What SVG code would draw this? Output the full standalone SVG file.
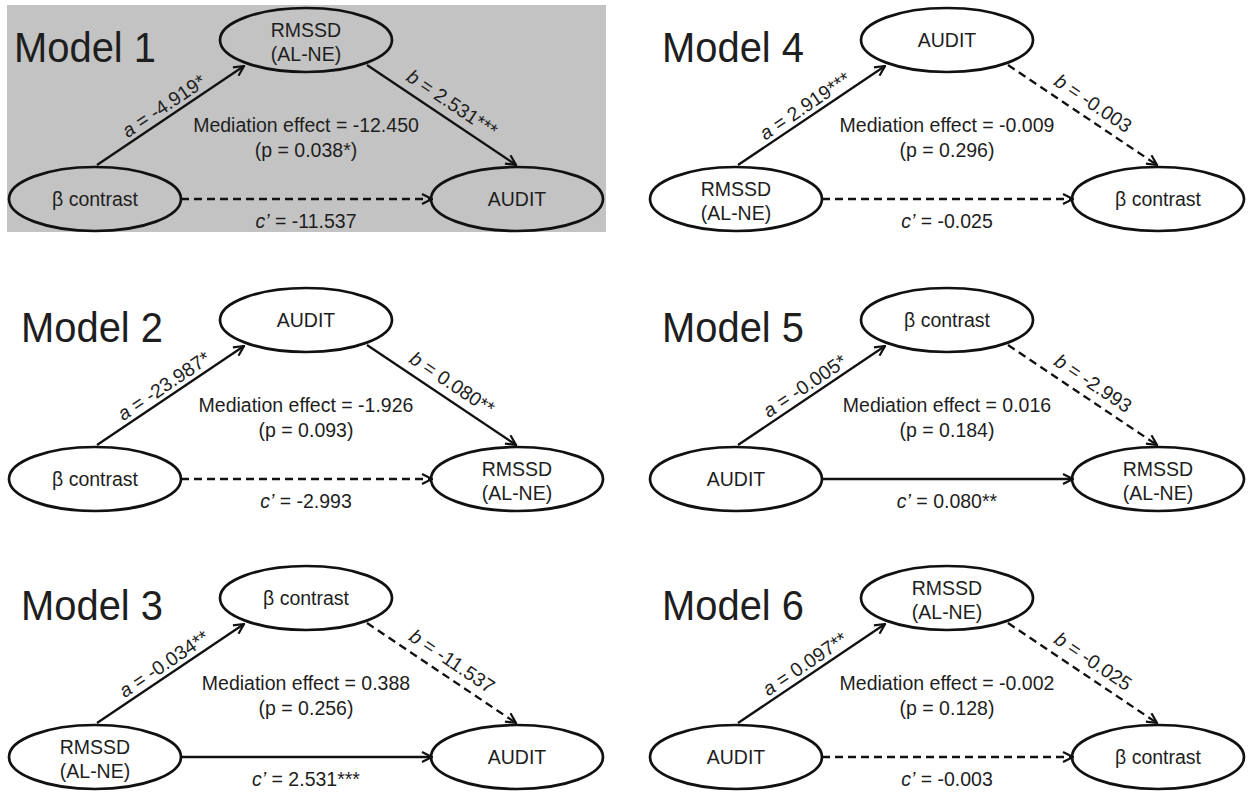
<svg xmlns="http://www.w3.org/2000/svg" width="1251" height="792" viewBox="0 0 1251 792">
<defs>
<marker id="arr" viewBox="0 0 12 12" refX="11" refY="6" markerWidth="12" markerHeight="12" orient="auto" markerUnits="userSpaceOnUse">
<path d="M1,1 L11,6 L1,11" fill="none" stroke="#111" stroke-width="2.2" stroke-dasharray="none"/>
</marker>
<style>
text{font-family:"Liberation Sans",Arial,sans-serif;fill:#1e1e1e;}
.node{fill:none;stroke:#111;stroke-width:2.7;}
.t{font-size:19.5px;text-anchor:middle;}
.title{font-size:42px;}
.e{fill:none;stroke:#111;stroke-width:2.3;marker-end:url(#arr);}
.d{stroke-dasharray:8 5;}
.i{font-style:italic;}
</style>
</defs>
<rect width="1251" height="792" fill="#fff"/>
<rect x="7" y="5" width="599" height="227" fill="#c3c3c3"/>

<!-- Model 1 -->
<g id="model1">
<text class="title" x="14" y="62" textLength="142" lengthAdjust="spacingAndGlyphs">Model 1</text>
<g id="m1-connectors">
<path class="e" d="M97,165 L244,66"/>
<path class="e" d="M367,65 L516,165"/>
<path class="e d" d="M181,199 L432,199"/>
<text class="t" transform="translate(167.6,111.4) rotate(-33.96)"><tspan class="i">a</tspan> = -4.919*</text>
<text class="t" transform="translate(448.4,108.8) rotate(33.87)"><tspan class="i">b</tspan> = 2.531***</text>
<text class="t" x="306" y="228"><tspan class="i">c’</tspan> = -11.537</text>
</g>
<g id="m1-left"><ellipse class="node" cx="95" cy="199" rx="86" ry="32"/><text class="t" x="95" y="206">β contrast</text></g>
<g id="m1-top"><ellipse class="node" cx="306" cy="40" rx="86" ry="32"/><text class="t" x="306" y="37">RMSSD</text><text class="t" x="306" y="61">(AL-NE)</text></g>
<g id="m1-right"><ellipse class="node" cx="517" cy="199" rx="86" ry="32"/><text class="t" x="517" y="206">AUDIT</text></g>
<g id="m1-med"><text class="t" x="306" y="132">Mediation effect = -12.450</text><text class="t" x="306" y="157">(p = 0.038*)</text></g>
</g>

<!-- Model 2 -->
<g id="model2" transform="translate(0,280)">
<text class="title" x="21" y="62" textLength="142" lengthAdjust="spacingAndGlyphs">Model 2</text>
<g id="m2-connectors">
<path class="e" d="M97,165 L244,66"/>
<path class="e" d="M367,65 L516,165"/>
<path class="e d" d="M181,199 L432,199"/>
<text class="t" transform="translate(167.6,111.4) rotate(-33.96)"><tspan class="i">a</tspan> = -23.987*</text>
<text class="t" transform="translate(448.4,108.8) rotate(33.87)"><tspan class="i">b</tspan> = 0.080**</text>
<text class="t" x="306" y="228"><tspan class="i">c’</tspan> = -2.993</text>
</g>
<g id="m2-left"><ellipse class="node" cx="95" cy="199" rx="86" ry="32"/><text class="t" x="95" y="206">β contrast</text></g>
<g id="m2-top"><ellipse class="node" cx="306" cy="40" rx="86" ry="32"/><text class="t" x="306" y="47">AUDIT</text></g>
<g id="m2-right"><ellipse class="node" cx="517" cy="199" rx="86" ry="32"/><text class="t" x="517" y="196">RMSSD</text><text class="t" x="517" y="220">(AL-NE)</text></g>
<g id="m2-med"><text class="t" x="306" y="132">Mediation effect = -1.926</text><text class="t" x="306" y="157">(p = 0.093)</text></g>
</g>

<!-- Model 3 -->
<g id="model3" transform="translate(0,558)">
<text class="title" x="21" y="62" textLength="142" lengthAdjust="spacingAndGlyphs">Model 3</text>
<g id="m3-connectors">
<path class="e" d="M97,165 L244,66"/>
<path class="e d" d="M367,65 L516,165"/>
<path class="e" d="M181,199 L432,199"/>
<text class="t" transform="translate(167.6,111.4) rotate(-33.96)"><tspan class="i">a</tspan> = -0.034**</text>
<text class="t" transform="translate(448.4,108.8) rotate(33.87)"><tspan class="i">b</tspan> = -11.537</text>
<text class="t" x="306" y="228"><tspan class="i">c’</tspan> = 2.531***</text>
</g>
<g id="m3-left"><ellipse class="node" cx="95" cy="199" rx="86" ry="32"/><text class="t" x="95" y="196">RMSSD</text><text class="t" x="95" y="220">(AL-NE)</text></g>
<g id="m3-top"><ellipse class="node" cx="306" cy="40" rx="86" ry="32"/><text class="t" x="306" y="47">β contrast</text></g>
<g id="m3-right"><ellipse class="node" cx="517" cy="199" rx="86" ry="32"/><text class="t" x="517" y="206">AUDIT</text></g>
<g id="m3-med"><text class="t" x="306" y="132">Mediation effect = 0.388</text><text class="t" x="306" y="157">(p = 0.256)</text></g>
</g>

<!-- Model 4 -->
<g id="model4" transform="translate(641,0)">
<text class="title" x="21" y="62" textLength="142" lengthAdjust="spacingAndGlyphs">Model 4</text>
<g id="m4-connectors">
<path class="e" d="M97,165 L244,66"/>
<path class="e d" d="M367,65 L516,165"/>
<path class="e d" d="M181,199 L432,199"/>
<text class="t" transform="translate(167.6,111.4) rotate(-33.96)"><tspan class="i">a</tspan> = 2.919***</text>
<text class="t" transform="translate(448.4,108.8) rotate(33.87)"><tspan class="i">b</tspan> = -0.003</text>
<text class="t" x="306" y="228"><tspan class="i">c’</tspan> = -0.025</text>
</g>
<g id="m4-left"><ellipse class="node" cx="95" cy="199" rx="86" ry="32"/><text class="t" x="95" y="196">RMSSD</text><text class="t" x="95" y="220">(AL-NE)</text></g>
<g id="m4-top"><ellipse class="node" cx="306" cy="40" rx="86" ry="32"/><text class="t" x="306" y="47">AUDIT</text></g>
<g id="m4-right"><ellipse class="node" cx="517" cy="199" rx="86" ry="32"/><text class="t" x="517" y="206">β contrast</text></g>
<g id="m4-med"><text class="t" x="306" y="132">Mediation effect = -0.009</text><text class="t" x="306" y="157">(p = 0.296)</text></g>
</g>

<!-- Model 5 -->
<g id="model5" transform="translate(641,280)">
<text class="title" x="21" y="62" textLength="142" lengthAdjust="spacingAndGlyphs">Model 5</text>
<g id="m5-connectors">
<path class="e" d="M97,165 L244,66"/>
<path class="e d" d="M367,65 L516,165"/>
<path class="e" d="M181,199 L432,199"/>
<text class="t" transform="translate(167.6,111.4) rotate(-33.96)"><tspan class="i">a</tspan> = -0.005*</text>
<text class="t" transform="translate(448.4,108.8) rotate(33.87)"><tspan class="i">b</tspan> = -2.993</text>
<text class="t" x="306" y="228"><tspan class="i">c’</tspan> = 0.080**</text>
</g>
<g id="m5-left"><ellipse class="node" cx="95" cy="199" rx="86" ry="32"/><text class="t" x="95" y="206">AUDIT</text></g>
<g id="m5-top"><ellipse class="node" cx="306" cy="40" rx="86" ry="32"/><text class="t" x="306" y="47">β contrast</text></g>
<g id="m5-right"><ellipse class="node" cx="517" cy="199" rx="86" ry="32"/><text class="t" x="517" y="196">RMSSD</text><text class="t" x="517" y="220">(AL-NE)</text></g>
<g id="m5-med"><text class="t" x="306" y="132">Mediation effect = 0.016</text><text class="t" x="306" y="157">(p = 0.184)</text></g>
</g>

<!-- Model 6 -->
<g id="model6" transform="translate(641,558)">
<text class="title" x="21" y="62" textLength="142" lengthAdjust="spacingAndGlyphs">Model 6</text>
<g id="m6-connectors">
<path class="e" d="M97,165 L244,66"/>
<path class="e d" d="M367,65 L516,165"/>
<path class="e d" d="M181,199 L432,199"/>
<text class="t" transform="translate(167.6,111.4) rotate(-33.96)"><tspan class="i">a</tspan> = 0.097**</text>
<text class="t" transform="translate(448.4,108.8) rotate(33.87)"><tspan class="i">b</tspan> = -0.025</text>
<text class="t" x="306" y="228"><tspan class="i">c’</tspan> = -0.003</text>
</g>
<g id="m6-left"><ellipse class="node" cx="95" cy="199" rx="86" ry="32"/><text class="t" x="95" y="206">AUDIT</text></g>
<g id="m6-top"><ellipse class="node" cx="306" cy="40" rx="86" ry="32"/><text class="t" x="306" y="37">RMSSD</text><text class="t" x="306" y="61">(AL-NE)</text></g>
<g id="m6-right"><ellipse class="node" cx="517" cy="199" rx="86" ry="32"/><text class="t" x="517" y="206">β contrast</text></g>
<g id="m6-med"><text class="t" x="306" y="132">Mediation effect = -0.002</text><text class="t" x="306" y="157">(p = 0.128)</text></g>
</g>
</svg>
